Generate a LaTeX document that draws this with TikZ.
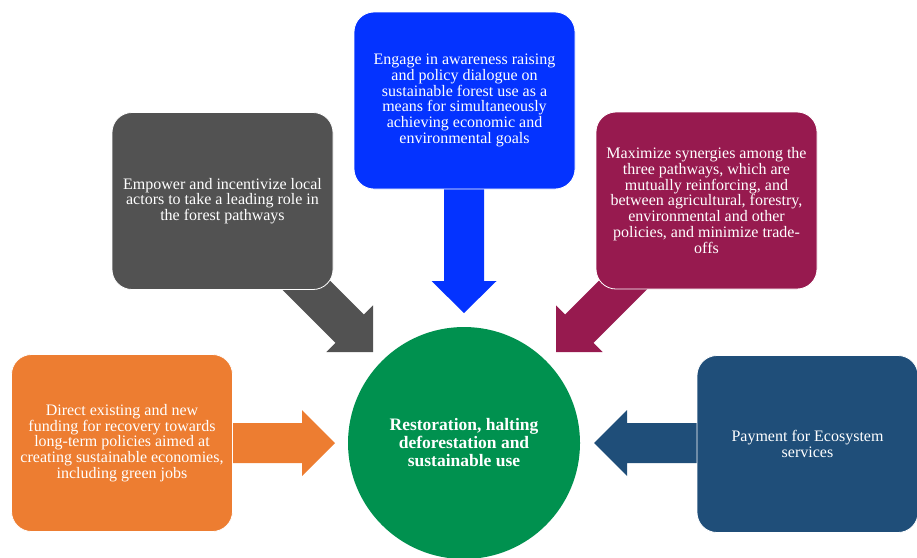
\documentclass[tikz,border=0pt]{standalone}
\usepackage{fontspec}
\setmainfont{Liberation Serif}
\definecolor{cOrange}{HTML}{ED7D31}
\definecolor{cGray}{HTML}{525252}
\definecolor{cBlue}{HTML}{0433FF}
\definecolor{cMaroon}{HTML}{971A4F}
\definecolor{cNavy}{HTML}{1F4E79}
\definecolor{cGreen}{HTML}{00914F}
\begin{document}
\begin{tikzpicture}[x=1pt,y=-1pt,
  box/.style={rectangle, rounded corners=20pt, draw=white, line width=0.8pt,
    minimum width=221pt, minimum height=177pt, inner sep=0pt, text=white,
    align=center, font=\fontsize{16}{15.7}\selectfont},
  blockarrow/.style={line width=0pt}]
\useasboundingbox (0,0) rectangle (917,557);
\clip (0,0) rectangle (917,557);
% arrows
\fill[cOrange] (200,423) -- (302,423) -- (302,410) -- (335,443) -- (302,476) -- (302,463) -- (200,463) -- cycle;
\fill[cNavy] (720,423) -- (627,423) -- (627,410) -- (594,443) -- (627,476) -- (627,463) -- (720,463) -- cycle;
\fill[cBlue] (444,170) -- (444,281) -- (431.5,281) -- (464,313) -- (496.5,281) -- (484,281) -- (484,170) -- cycle;
\fill[cGray] (302.3,253.0) -- (363.8,314.5) -- (373,305.3) -- (373,352) -- (326.3,352) -- (335.5,342.8) -- (274.0,281.3) -- cycle;
\fill[cMaroon] (626.7,253.0) -- (565.2,314.5) -- (556,305.3) -- (556,352) -- (602.7,352) -- (593.5,342.8) -- (655.0,281.3) -- cycle;
% boxes
\node[box, fill=cOrange] (orange) at (122,443) {Direct existing and new\\funding for recovery towards\\long-term policies aimed at\\creating sustainable economies,\\including green jobs};
\node[box, fill=cGray] (gray) at (222.5,201) {Empower and incentivize local\\actors to take a leading role in\\the forest pathways};
\node[box, fill=cBlue] (blue) at (464.5,100.5) {Engage in awareness raising\\and policy dialogue on\\sustainable forest use as a\\means for simultaneously\\achieving economic and\\environmental goals};
\node[box, fill=cMaroon] (maroon) at (706.5,200.5) {Maximize synergies among the\\three pathways, which are\\mutually reinforcing, and\\between agricultural, forestry,\\environmental and other\\policies, and minimize trade-\\offs};
\node[box, fill=cNavy] (navy) at (807.5,444) {Payment for Ecosystem\\services};
% center
\node[circle, fill=cGreen, minimum size=232pt, inner sep=0pt, text=white, align=center,
  font=\fontsize{17.5}{18}\selectfont\bfseries] (center) at (464,443)
  {Restoration, halting\\deforestation and\\sustainable use};
\end{tikzpicture}
\end{document}
